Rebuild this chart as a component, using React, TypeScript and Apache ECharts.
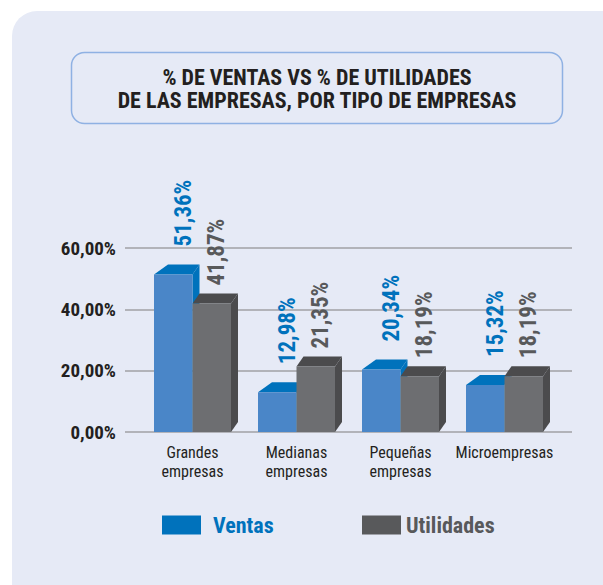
import React, { useEffect, useRef } from "react";
import * as echarts from "echarts";

const categories = ["Grandes\nempresas", "Medianas\nempresas", "Pequeñas\nempresas", "Microempresas"];
const ventas = [51.36, 12.98, 20.34, 15.32];
const utilidades = [41.87, 21.35, 18.19, 18.19];
const yTicks = [0, 20, 40, 60];
const titleLines = ["% DE VENTAS VS % DE UTILIDADES", "DE LAS EMPRESAS, POR TIPO DE EMPRESAS"];

const FONT = "'Liberation Sans Narrow', 'Roboto Condensed', 'DejaVu Sans Condensed', 'Liberation Sans', sans-serif";
const BLUE_FRONT = "#4A86C8";
const BLUE_DARK = "#0072BC";
const GRAY_FRONT = "#6D6E71";
const GRAY_DARK = "#4B4B4D";
const LABEL_GRAY = "#58595B";
const BG = "#E6EAF6";

const fmt = (v: number) => v.toFixed(2).replace(".", ",") + "%";

function makeRender(side: "left" | "right", front: string, dark: string, labelColor: string, leftSlant: number, gap: number, labelDx: number) {
  return (params: any, api: any) => {
    const cat = api.value(0);
    const val = api.value(1);
    const base = api.coord([cat, 0]);
    const top = api.coord([cat, val]);
    const bw = 38.5;
    const x0 = side === "left" ? base[0] - bw : base[0];
    const x1 = x0 + bw;
    const yT = top[1];
    const yB = base[1];
    const dx = 7;
    const dy = 10;
    return {
      type: "group",
      children: [
        {
          type: "polygon",
          shape: { points: [[x1, yT], [x1 + dx, yT - dy], [x1 + dx, yB - dy], [x1, yB]] },
          style: { fill: dark },
        },
        {
          type: "polygon",
          shape: { points: [[x0, yT], [x0 + leftSlant, yT - dy], [x1 + dx, yT - dy], [x1, yT]] },
          style: { fill: dark },
        },
        {
          type: "rect",
          shape: { x: x0, y: yT, width: bw, height: yB - yT },
          style: { fill: front },
        },
        {
          type: "text",
          x: (x0 + x1) / 2 + labelDx,
          y: yT - dy - gap,
          rotation: Math.PI / 2,
          style: {
            text: fmt(val),
            fill: labelColor,
            font: `bold 23px ${FONT}`,
            textAlign: "left",
            textVerticalAlign: "middle",
          },
        },
      ],
    };
  };
}

export default function App() {
  const ref = useRef<HTMLDivElement>(null);
  useEffect(() => {
    if (!ref.current) return;
    const chart = echarts.init(ref.current, null, { renderer: "svg" });
    const gridTop = 248;
    const gridBottom = 585 - 432;
    chart.setOption({
      animation: false,
      backgroundColor: "#ffffff",
      textStyle: { fontFamily: FONT },
      title: {
        text: titleLines.join("\n"),
        left: 317,
        top: 66,
        padding: 0,
        textAlign: "center",
        textStyle: { fontFamily: FONT, fontWeight: "bold", fontSize: 22, lineHeight: 23, color: "#231F20" },
      },
      graphic: [
        {
          type: "rect",
          z: -10,
          silent: true,
          shape: { x: 12, y: 11, width: 640, height: 640, r: 25 },
          style: { fill: BG },
        },
        {
          type: "rect",
          z: -9,
          silent: true,
          shape: { x: 71.5, y: 52.5, width: 491, height: 71, r: 13 },
          style: { fill: BG, stroke: "#8FB1E3", lineWidth: 1.5 },
        },
      ],
      legend: [
        {
          left: 162,
          top: 514,
          padding: 0,
          itemWidth: 39,
          itemHeight: 19,
          icon: "rect",
          selectedMode: false,
          data: ["Ventas"],
          textStyle: { fontFamily: FONT, fontWeight: "bold", fontSize: 22, color: BLUE_DARK, padding: [0, 0, 0, 7] },
        },
        {
          left: 362,
          top: 514,
          padding: 0,
          itemWidth: 39,
          itemHeight: 19,
          icon: "rect",
          selectedMode: false,
          data: ["Utilidades"],
          textStyle: { fontFamily: FONT, fontWeight: "bold", fontSize: 22, color: LABEL_GRAY },
        },
      ],
      grid: [
        { left: 125, right: 31, top: gridTop, bottom: gridBottom },
        { left: 140.5, width: 416, top: gridTop, bottom: gridBottom },
      ],
      xAxis: [
        { gridIndex: 0, type: "value", min: 0, max: 1, show: false },
        {
          gridIndex: 1,
          type: "category",
          data: categories,
          axisLine: { show: false },
          axisTick: { show: false },
          axisLabel: { interval: 0, margin: 11, fontFamily: FONT, fontSize: 16, lineHeight: 19, color: "#231F20" },
        },
      ],
      yAxis: [
        {
          gridIndex: 0,
          type: "value",
          min: yTicks[0],
          max: yTicks[yTicks.length - 1],
          interval: yTicks[1] - yTicks[0],
          axisLine: { show: false },
          axisTick: { show: false },
          splitLine: { lineStyle: { color: "#A0A0A4", width: 1.5 } },
          axisLabel: {
            margin: 9,
            fontFamily: FONT,
            fontWeight: "bold",
            fontSize: 19,
            color: "#231F20",
            formatter: (v: number) => fmt(v),
          },
        },
        { gridIndex: 1, type: "value", min: yTicks[0], max: yTicks[yTicks.length - 1], show: false },
      ],
      series: [
        {
          name: "Ventas",
          type: "custom",
          xAxisIndex: 1,
          yAxisIndex: 1,
          itemStyle: { color: BLUE_DARK },
          encode: { x: 0, y: 1 },
          data: ventas.map((v, i) => [i, v]),
          renderItem: makeRender("left", BLUE_FRONT, BLUE_DARK, BLUE_DARK, 14, 18, 10),
        },
        {
          name: "Utilidades",
          type: "custom",
          xAxisIndex: 1,
          yAxisIndex: 1,
          itemStyle: { color: LABEL_GRAY },
          encode: { x: 0, y: 1 },
          data: utilidades.map((v, i) => [i, v]),
          renderItem: makeRender("right", GRAY_FRONT, GRAY_DARK, LABEL_GRAY, 7, 8, 5),
        },
      ],
    });
    return () => chart.dispose();
  }, []);
  return <div ref={ref} style={{ position: "absolute", left: 0, top: 0, width: 603, height: 585 }} />;
}
